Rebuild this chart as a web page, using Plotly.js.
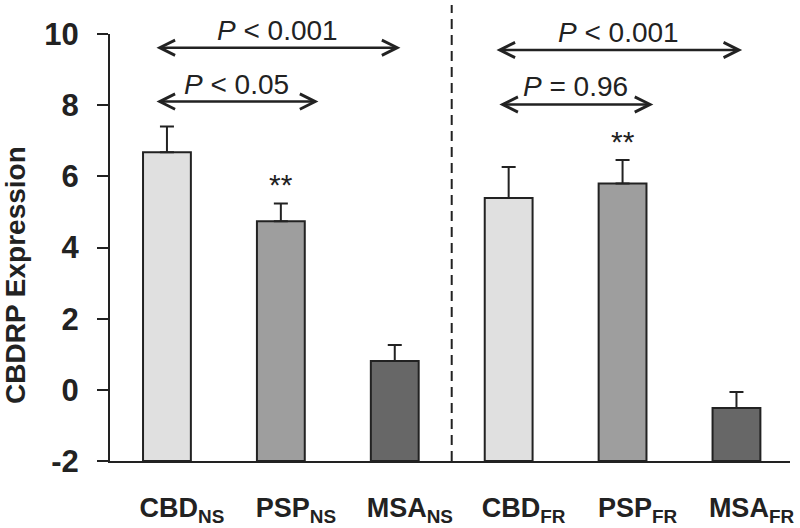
<!DOCTYPE html>
<html>
<head>
<meta charset="utf-8">
<script src="https://cdn.plot.ly/plotly-3.0.1.min.js"></script>
<style>html,body{margin:0;padding:0;background:#fff;}#chart{width:800px;height:528px;}</style>
</head>
<body>
<div id="chart"></div>
<script>
// ---- data ----
const categories = ['CBD_NS', 'PSP_NS', 'MSA_NS', 'CBD_FR', 'PSP_FR', 'MSA_FR'];
const tickLabels = ['CBD<sub>NS</sub>', 'PSP<sub>NS</sub>', 'MSA<sub>NS</sub>', 'CBD<sub>FR</sub>', 'PSP<sub>FR</sub>', 'MSA<sub>FR</sub>'];
const means = [6.68, 4.74, 0.81, 5.39, 5.80, -0.51];
const sems = [0.72, 0.50, 0.45, 0.87, 0.66, 0.45];
const significance = ['', '**', '', '', '**', ''];
const baseline = -2;
const yTickValues = [-2, 0, 2, 4, 6, 8, 10];
const yTickLabels = ['-2', '0', '2', '4', '6', '8', '10'];
const yTitle = 'CBDRP Expression';

const comparisonLabels = ['<i>P</i> < 0.001', '<i>P</i> < 0.05', '<i>P</i> < 0.001', '<i>P</i> = 0.96'];
const comparisonFrom = [-0.105, -0.105, 2.88, 2.905];
const comparisonTo = [2.05, 1.33, 5.05, 4.27];
const comparisonLevel = [9.615, 8.10, 9.55, 8.02];

// ---- chart ----
const ink = '#222222';
const fills = ['#e0e0e0', '#9e9e9e', '#676767', '#e0e0e0', '#9e9e9e', '#676767'];
const fontFamily = 'Liberation Sans, Arial, sans-serif';

const trace = {
  type: 'bar',
  x: categories,
  y: means.map(v => v - baseline),
  base: categories.map(() => baseline),
  width: 0.42,
  marker: {color: fills, line: {color: ink, width: 2}},
  error_y: {
    type: 'data', symmetric: false,
    array: sems, arrayminus: sems.map(() => 0),
    color: ink, thickness: 2, width: 7
  },
  hoverinfo: 'skip'
};

const annotations = [];
comparisonLabels.forEach((lab, i) => {
  annotations.push({
    x: comparisonTo[i], y: comparisonLevel[i], xref: 'x', yref: 'y',
    ax: comparisonFrom[i], ay: comparisonLevel[i], axref: 'x', ayref: 'y',
    text: '', showarrow: true, arrowside: 'end+start',
    arrowhead: 5, startarrowhead: 5, arrowsize: 1.2, startarrowsize: 1.2,
    arrowwidth: 2.5, arrowcolor: ink, standoff: 0, startstandoff: 0
  });
  annotations.push({
    x: (comparisonFrom[i] + comparisonTo[i]) / 2, y: comparisonLevel[i],
    xref: 'x', yref: 'y', yanchor: 'bottom', yshift: 0,
    text: lab, showarrow: false,
    font: {family: fontFamily, size: 28, color: ink}
  });
});
significance.forEach((s, i) => {
  if (!s) return;
  annotations.push({
    x: categories[i], y: means[i] + sems[i], xref: 'x', yref: 'y',
    yanchor: 'bottom', yshift: 0, text: s, showarrow: false,
    font: {family: fontFamily, size: 30, color: ink}
  });
});
// y-axis title (placed as annotation to match the reference's lower centring)
annotations.push({
  text: yTitle, xref: 'paper', yref: 'paper', x: -0.138, y: 0.436,
  xanchor: 'center', yanchor: 'middle', textangle: -90, showarrow: false,
  font: {family: fontFamily, size: 28, weight: 'bold', color: ink}
});

const layout = {
  width: 800, height: 528,
  margin: {l: 110, r: 10, t: 34, b: 67},
  paper_bgcolor: '#ffffff', plot_bgcolor: '#ffffff',
  showlegend: false,
  font: {family: fontFamily, color: ink},
  xaxis: {
    type: 'category', range: [-0.5, 5.47],
    tickvals: categories,
    ticktext: tickLabels.map(t => '&nbsp;&nbsp;&nbsp;&nbsp;' + t),
    tickangle: 0,
    tickfont: {size: 27, weight: 'bold', color: ink},
    ticks: '', showline: true, linecolor: ink, linewidth: 2,
    showgrid: false, zeroline: false, ticklabelstandoff: 22, fixedrange: true
  },
  yaxis: {
    range: [-2, 10], tickvals: yTickValues, ticktext: yTickLabels,
    ticks: 'outside', ticklen: 11, tickwidth: 2, tickcolor: ink,
    tickfont: {size: 31, weight: 'bold', color: ink},
    showline: true, linecolor: ink, linewidth: 2,
    showgrid: false, zeroline: false, ticklabelstandoff: 12,
    fixedrange: true
  },
  shapes: [{
    type: 'line', xref: 'x', yref: 'paper', x0: 2.5, x1: 2.5, y0: 0, y1: 1.068,
    line: {color: ink, width: 2, dash: '10px,6px'}
  }],
  annotations: annotations
};

Plotly.newPlot('chart', [trace], layout, {staticPlot: true, displayModeBar: false});
</script>
</body>
</html>
